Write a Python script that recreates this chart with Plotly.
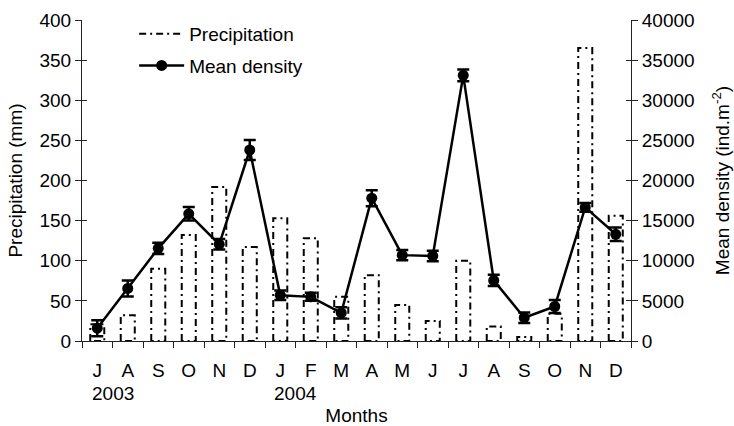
import plotly.graph_objects as go

months = ["J", "A", "S", "O", "N", "D", "J", "F", "M", "A", "M", "J", "J", "A", "S", "O", "N", "D"]
year_labels = ["2003", "2004"]
year_start_idx = [0, 6]
precip = [21, 32, 90, 132, 192, 117, 153, 128, 55, 82, 45, 25, 100, 18, 5, 34, 365, 156]
density = [1600, 6550, 11550, 15850, 12050, 23800, 5700, 5500, 3500, 17800, 10700, 10600, 33100, 7550, 2900, 4300, 16650, 13300]
density_err = [1000, 1000, 700, 850, 650, 1250, 600, 500, 700, 1000, 650, 650, 730, 700, 650, 800, 550, 830]

FONT = "Liberation Sans, Arial, sans-serif"
FS = 19
AX = "#222"
BAR_HALF = 0.23
DASH = "7px,4px,2px,4px"

xi = list(range(len(months)))

# precipitation bar outlines (closed rectangles) built from the data
bx, by = [], []
for i, v in enumerate(precip):
    bx += [i - BAR_HALF, i - BAR_HALF, i + BAR_HALF, i + BAR_HALF, i - BAR_HALF, None]
    by += [0, v, v, 0, 0, None]

fig = go.Figure()
fig.add_trace(go.Scatter(
    x=bx, y=by, mode="lines", name="Precipitation",
    line=dict(color="black", width=2, dash=DASH),
    legendgroup="a", hoverinfo="skip", yaxis="y"))
fig.add_trace(go.Scatter(
    x=xi, y=density, mode="lines+markers", name="Mean density",
    line=dict(color="black", width=2.5),
    marker=dict(color="black", size=11),
    error_y=dict(type="data", array=density_err, color="black", thickness=2.5, width=6),
    legendgroup="b", yaxis="y2"))

tickfont = dict(family=FONT, size=FS, color="black")
fig.update_layout(
    width=734, height=426,
    margin=dict(l=82, r=103, t=20, b=85),
    paper_bgcolor="white", plot_bgcolor="white",
    font=dict(family=FONT, size=FS, color="black"),
    showlegend=True,
    legend=dict(x=0.095, y=1.016, xanchor="left", yanchor="top", bgcolor="rgba(0,0,0,0)",
                font=dict(family=FONT, size=FS), tracegroupgap=4, itemwidth=45,
                traceorder="grouped"),
    xaxis=dict(range=[-0.5, 17.5], tickmode="array", tickvals=xi, ticktext=months,
               ticks="outside", ticklen=12, tickcolor="rgba(0,0,0,0)",
               showline=True, linecolor=AX, linewidth=1,
               showgrid=False, zeroline=False, tickfont=tickfont, automargin=False,
               minor=dict(tickmode="array", tickvals=[i - 0.5 for i in range(19)],
                          ticks="outside", ticklen=6, tickcolor=AX, tickwidth=1),
               title=dict(text="Months", font=dict(family=FONT, size=FS), standoff=36)),
    yaxis=dict(range=[0, 400], dtick=50, showline=True, linecolor=AX, linewidth=1,
               ticks="outside", ticklen=6, tickcolor=AX, tickwidth=1,
               showgrid=False, zeroline=False, tickfont=tickfont, automargin=False,
               title=dict(text="Precipitation (mm)", font=dict(family=FONT, size=FS), standoff=11)),
    yaxis2=dict(range=[0, 40000], dtick=5000, tickformat="d", overlaying="y", side="right", anchor="x",
                showline=True, linecolor=AX, linewidth=1,
                ticks="outside", ticklen=6, tickcolor=AX, tickwidth=1,
                showgrid=False, zeroline=False, tickfont=tickfont, automargin=False,
                title=dict(text="Mean density (ind.m<sup>-2</sup>)", font=dict(family=FONT, size=FS), standoff=22)),
    yaxis3=dict(range=[0, 400], dtick=50, overlaying="y", side="left", anchor="x",
                ticks="inside", ticklen=5, tickcolor=AX, tickwidth=1,
                showticklabels=False, showgrid=False, zeroline=False, showline=False),
    yaxis4=dict(range=[0, 40000], dtick=5000, overlaying="y", side="right", anchor="x",
                ticks="inside", ticklen=5, tickcolor=AX, tickwidth=1,
                showticklabels=False, showgrid=False, zeroline=False, showline=False),
)
# invisible traces to activate the overlay tick axes
fig.add_trace(go.Scatter(x=[None], y=[None], yaxis="y3", showlegend=False, hoverinfo="skip"))
fig.add_trace(go.Scatter(x=[None], y=[None], yaxis="y4", showlegend=False, hoverinfo="skip"))

# year labels centred between the first two months of each year
for lab, idx in zip(year_labels, year_start_idx):
    fig.add_annotation(text=lab, x=idx + 0.5, xref="x", y=0, yref="paper", yshift=-52,
                       yanchor="middle", showarrow=False, font=dict(family=FONT, size=FS))

fig.write_html("out.html", config={"displayModeBar": False},
               post_script="document.body.style.margin='0';")
